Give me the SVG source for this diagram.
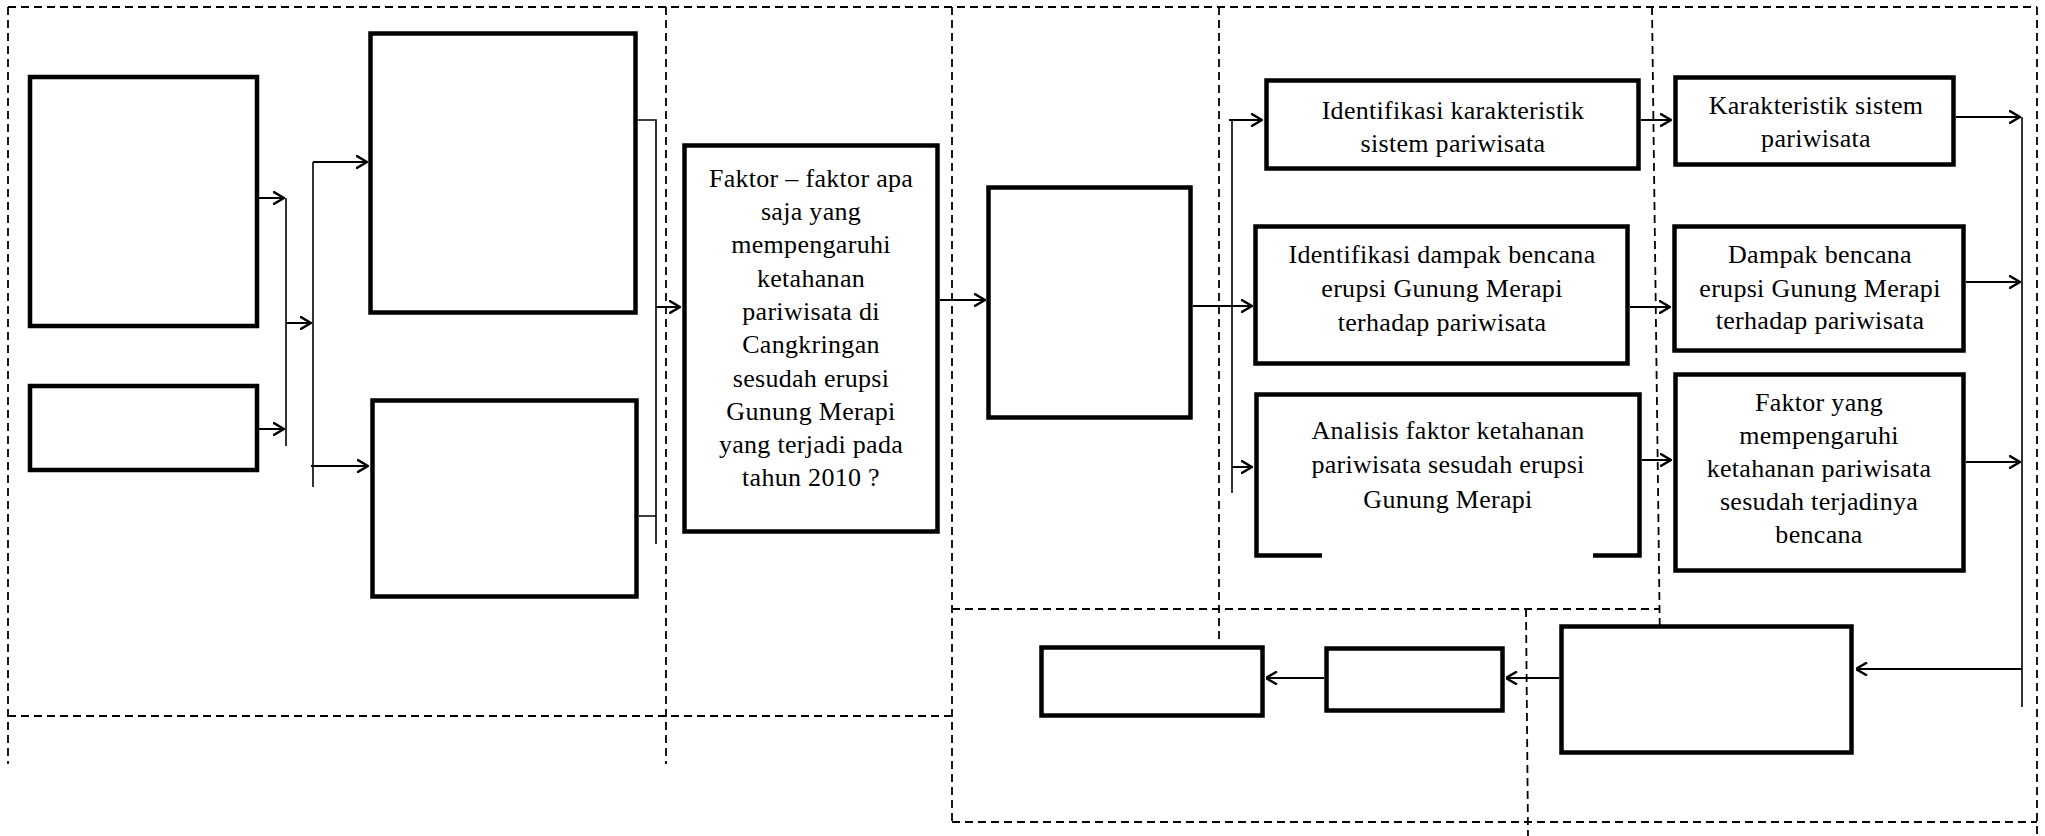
<svg xmlns="http://www.w3.org/2000/svg" width="2045" height="836" viewBox="0 0 2045 836">
<style>
.dash{fill:none;stroke:#000;stroke-width:1.8;stroke-dasharray:8 5}
.box{fill:#fff;stroke:#000;stroke-width:4.5}
.ln{fill:none;stroke:#000;stroke-width:2}
.tr{fill:none;stroke:#000;stroke-width:1.6}
.t{font-family:"Liberation Serif","Times New Roman",serif;font-size:26px;letter-spacing:0.3px;fill:#000;text-anchor:middle}
</style>
<defs>
<marker id="ar" viewBox="0 0 12 14" refX="11.5" refY="7" markerWidth="12" markerHeight="14" markerUnits="userSpaceOnUse" orient="auto">
<path d="M0.5,0.5 L11.5,7 L0.5,13.5" fill="none" stroke="#000" stroke-width="2.4"/>
</marker>
</defs>
<rect width="2045" height="836" fill="#fff"/>
<g id="grid">
<path class="dash" d="M8,7 H2037"/>
<path class="dash" d="M8,7 V764"/>
<path class="dash" d="M666,7 V764"/>
<path class="dash" d="M952,7 V822"/>
<path class="dash" d="M1219,7 V643"/>
<path class="dash" d="M1652,7 L1660,647"/>
<path class="dash" d="M2037,7 V836"/>
<path class="dash" d="M8,716 H952"/>
<path class="dash" d="M952,609 H1660"/>
<path class="dash" d="M1526,609 L1528,836"/>
<path class="dash" d="M952,822 H2037"/>
</g>
<g id="connectors">
<path class="tr" d="M286,198 V446"/>
<path class="tr" d="M313,162 V487"/>
<path class="tr" d="M638,120 H656 V544 M639,516 H656"/>
<path class="tr" d="M1232,120 V493"/>
<path class="tr" d="M2022,117 V707"/>
<path class="ln" d="M259,198 H284" marker-end="url(#ar)"/>
<path class="ln" d="M259,429 H284" marker-end="url(#ar)"/>
<path class="ln" d="M286,323 H311" marker-end="url(#ar)"/>
<path class="ln" d="M313,162 H367" marker-end="url(#ar)"/>
<path class="ln" d="M311,466 H368" marker-end="url(#ar)"/>
<path class="ln" d="M656,307 H680" marker-end="url(#ar)"/>
<path class="ln" d="M940,300 H985" marker-end="url(#ar)"/>
<path class="ln" d="M1193,306 H1252" marker-end="url(#ar)"/>
<path class="ln" d="M1229,120 H1262" marker-end="url(#ar)"/>
<path class="ln" d="M1232,467 H1252" marker-end="url(#ar)"/>
<path class="ln" d="M1641,120 H1671" marker-end="url(#ar)"/>
<path class="ln" d="M1630,307 H1670" marker-end="url(#ar)"/>
<path class="ln" d="M1642,460 H1671" marker-end="url(#ar)"/>
<path class="ln" d="M1956,117 H2020" marker-end="url(#ar)"/>
<path class="ln" d="M1966,282 H2020" marker-end="url(#ar)"/>
<path class="ln" d="M1966,462 H2020" marker-end="url(#ar)"/>
<path class="ln" d="M2022,669 H1856" marker-end="url(#ar)"/>
<path class="ln" d="M1559,678 H1506" marker-end="url(#ar)"/>
<path class="ln" d="M1324,678 H1266" marker-end="url(#ar)"/>
</g>
<g id="nodeA"><rect class="box" x="30" y="77" width="227" height="249"/></g>
<g id="nodeB"><rect class="box" x="30" y="386" width="227" height="84"/></g>
<g id="nodeC"><rect class="box" x="370.5" y="33.5" width="265" height="279"/></g>
<g id="nodeD"><rect class="box" x="372.5" y="400.5" width="264" height="196"/></g>
<g id="nodeE">
<rect class="box" x="684.5" y="145.5" width="253" height="386"/>
<text class="t" x="811" y="187">Faktor – faktor apa</text>
<text class="t" x="811" y="220">saja yang</text>
<text class="t" x="811" y="253">mempengaruhi</text>
<text class="t" x="811" y="287">ketahanan</text>
<text class="t" x="811" y="320">pariwisata di</text>
<text class="t" x="811" y="353">Cangkringan</text>
<text class="t" x="811" y="387">sesudah erupsi</text>
<text class="t" x="811" y="420">Gunung Merapi</text>
<text class="t" x="811" y="453">yang terjadi pada</text>
<text class="t" x="811" y="486">tahun 2010 ?</text>
</g>
<g id="nodeF"><rect class="box" x="988.5" y="187.5" width="202" height="230"/></g>
<g id="nodeG1">
<rect class="box" x="1266.5" y="80.5" width="372" height="88"/>
<text class="t" x="1453" y="119">Identifikasi karakteristik</text>
<text class="t" x="1453" y="152">sistem pariwisata</text>
</g>
<g id="nodeG2">
<rect class="box" x="1255.5" y="226.5" width="372" height="137"/>
<text class="t" x="1442" y="263">Identifikasi dampak bencana</text>
<text class="t" x="1442" y="297">erupsi Gunung Merapi</text>
<text class="t" x="1442" y="331">terhadap pariwisata</text>
</g>
<g id="nodeG3">
<rect x="1256.5" y="394.5" width="383" height="161" fill="#fff"/>
<path d="M1322,555.5 H1256.5 V394.5 H1639.5 V555.5 H1593" fill="none" stroke="#000" stroke-width="4.5"/>
<text class="t" x="1448" y="439">Analisis faktor ketahanan</text>
<text class="t" x="1448" y="473">pariwisata sesudah erupsi</text>
<text class="t" x="1448" y="508">Gunung Merapi</text>
</g>
<g id="nodeH1">
<rect class="box" x="1675.5" y="77.5" width="278" height="87"/>
<text class="t" x="1816" y="114">Karakteristik sistem</text>
<text class="t" x="1816" y="147">pariwisata</text>
</g>
<g id="nodeH2">
<rect class="box" x="1674.5" y="226.5" width="289" height="124"/>
<text class="t" x="1820" y="263">Dampak bencana</text>
<text class="t" x="1820" y="297">erupsi Gunung Merapi</text>
<text class="t" x="1820" y="329">terhadap pariwisata</text>
</g>
<g id="nodeH3">
<rect class="box" x="1675.5" y="374.5" width="288" height="196"/>
<text class="t" x="1819" y="411">Faktor yang</text>
<text class="t" x="1819" y="444">mempengaruhi</text>
<text class="t" x="1819" y="477">ketahanan pariwisata</text>
<text class="t" x="1819" y="510">sesudah terjadinya</text>
<text class="t" x="1819" y="543">bencana</text>
</g>
<g id="nodeI"><rect class="box" x="1561.5" y="626.5" width="290" height="126"/></g>
<g id="nodeJ"><rect class="box" x="1326.5" y="648.5" width="176" height="62"/></g>
<g id="nodeK"><rect class="box" x="1041.5" y="647.5" width="221" height="68"/></g>
</svg>
